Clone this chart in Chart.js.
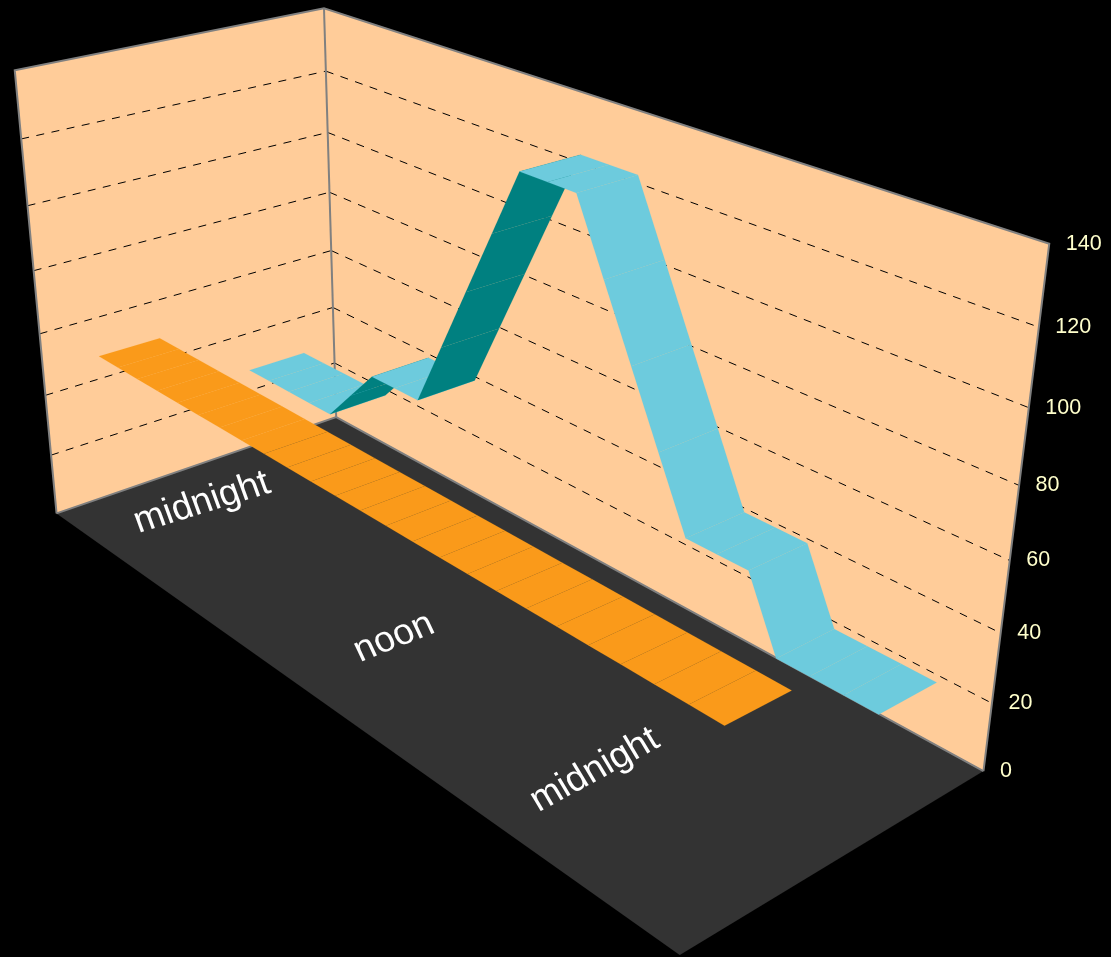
<!DOCTYPE html>
<html>
<head>
<meta charset="utf-8">
<script src="https://cdn.jsdelivr.net/npm/chart.js@4"></script>
<style>
  body { margin: 0; background: #000; }
  canvas { display: block; }
</style>
</head>
<body>
<canvas id="chart" width="1111" height="957"></canvas>
<script>
const hours = [0, 1, 2, 3, 4, 5, 6, 7, 8, 9, 10, 11, 12, 13, 14, 15, 16, 17, 18, 19, 20, 21, 22, 23, 24];
const backSeries = [30, 30, 30, 30, 30, 40, 50, 50, 50, 70, 90, 110, 130, 130, 130, 110, 90, 70, 50, 50, 50, 30, 30, 30, 30];
const frontSeries = [50, 50, 50, 50, 50, 50, 50, 50, 50, 50, 50, 50, 50, 50, 50, 50, 50, 50, 50, 50, 50, 50, 50, 50, 50];
const valueTicks = [0, 20, 40, 60, 80, 100, 120, 140];
const floorLabels = ['midnight', 'noon', 'midnight'];

// camera for the box: hour along the back wall, depth across the floor, height up the wall
const camX = [336.1765, 389.5359, -284.6602, -39.3219];
const camY = [417.1361, 151.8885, 50.5490, -409.6192];
const camW = [1, -0.262085, -0.089066, -0.083749];

function project(u, v, w) {
  const h = w / 140, den = camW[0] + camW[1] * u + camW[2] * v + camW[3] * h;
  return {
    x: (camX[0] + camX[1] * u + camX[2] * v + camX[3] * h) / den,
    y: (camY[0] + camY[1] * u + camY[2] * v + camY[3] * h) / den
  };
}

// where each floor label sits on the floor, and how it is skewed there
const labelSpots = [[0.1078, 0.6703], [0.4793, 0.7007], [0.7796, 0.7027]];
const labelAngles = [17, 21.6, 28.4];
const labelLeans = [20, 25, 31];

const slotU = (i) => (i + 0.5) / hours.length;
const datasets = [];
const poly = (corners, color) => datasets.push({ polygon: true, data: corners, backgroundColor: color, showLine: false, pointRadius: 0 });
const line = (corners, color, width, dash) => datasets.push({ data: corners, borderColor: color, borderWidth: width, borderDash: dash || [], showLine: true, pointRadius: 0, tension: 0, fill: false });

const PEACH = '#ffcc99', EDGE = '#808080';
poly([project(0, 1, 0), project(0, 0, 0), project(0, 0, 140), project(0, 1, 140)], PEACH);
poly([project(0, 0, 0), project(1, 0, 0), project(1, 0, 140), project(0, 0, 140)], PEACH);
poly([project(0, 0, 0), project(1, 0, 0), project(1, 1, 0), project(0, 1, 0)], '#333333');

valueTicks.slice(1, -1).forEach((t) => {
  line([project(0, 1, t), project(0, 0, t)], '#000', 1, [8, 7.5]);
  line([project(0, 0, t), project(1, 0, t)], '#000', 1, [8, 7.5]);
});
line([project(0, 1, 0), project(0, 1, 140), project(0, 0, 140), project(1, 0, 140), project(1, 0, 0)], EDGE, 2);
line([project(0, 0, 0), project(0, 0, 140)], EDGE, 2);
line([project(0, 1, 0), project(0, 0, 0), project(1, 0, 0)], EDGE, 2);

// one quad per hour, later hours on top; a rising quad shows its underside
function ribbon(series, vNear, vFar, topColor, underColor) {
  for (let i = 0; i + 1 < series.length; i++) {
    const a = slotU(i), b = slotU(i + 1);
    const color = series[i + 1] > series[i] ? underColor : topColor;
    poly([project(a, vNear, series[i]), project(a, vFar, series[i]), project(b, vFar, series[i + 1]), project(b, vNear, series[i + 1])], color);
  }
}
ribbon(backSeries, 0.35, 0.15, '#6dcbdd', '#008080');
ribbon(frontSeries, 0.85, 0.65, '#fa9a1a', '#fa9a1a');

// Chart.js paints the highest order first
datasets.forEach((ds, i) => { ds.order = datasets.length - i; });

const polygonFill = {
  id: 'polygonFill',
  beforeDatasetDraw(chart, args) {
    const ds = chart.data.datasets[args.index];
    if (!ds.polygon) return;
    const pts = chart.getDatasetMeta(args.index).data, ctx = chart.ctx;
    ctx.save();
    ctx.beginPath();
    pts.forEach((p, i) => (i ? ctx.lineTo(p.x, p.y) : ctx.moveTo(p.x, p.y)));
    ctx.closePath();
    ctx.fillStyle = ds.backgroundColor;
    ctx.strokeStyle = ds.backgroundColor;
    ctx.lineWidth = 0.12;
    ctx.fill();
    ctx.stroke();
    ctx.restore();
  }
};

const axisText = {
  id: 'axisText',
  afterDraw(chart) {
    const { ctx, scales: { x, y } } = chart;
    ctx.save();
    ctx.fillStyle = '#ffffcc';
    ctx.font = '21.5px "Liberation Sans"';
    ctx.textAlign = 'left';
    ctx.textBaseline = 'middle';
    valueTicks.forEach((t) => {
      const p = project(1, 0, t);
      ctx.fillText(String(t), x.getPixelForValue(p.x) + 16.5, y.getPixelForValue(p.y));
    });
    // floor labels lie on the plane, so the stems lean back as well as rotate
    ctx.fillStyle = '#fff';
    ctx.font = '37px "Liberation Sans"';
    ctx.textAlign = 'center';
    ctx.textBaseline = 'alphabetic';
    floorLabels.forEach((text, i) => {
      const p = project(labelSpots[i][0], labelSpots[i][1], 0);
      const a = labelAngles[i] * Math.PI / 180, lean = labelLeans[i] * Math.PI / 180;
      ctx.save();
      ctx.transform(Math.cos(a), -Math.sin(a), Math.sin(lean), Math.cos(lean), x.getPixelForValue(p.x), y.getPixelForValue(p.y));
      ctx.fillText(text, 0, 0);
      ctx.restore();
    });
    ctx.restore();
  }
};

new Chart(document.getElementById('chart'), {
  type: 'scatter',
  data: { datasets },
  plugins: [polygonFill, axisText],
  options: {
    responsive: false,
    animation: false,
    layout: { padding: 0 },
    plugins: { legend: { display: false }, tooltip: { enabled: false } },
    scales: {
      x: { type: 'linear', display: false, min: 0, max: 1111 },
      y: { type: 'linear', display: false, min: 0, max: 957, reverse: true }
    }
  }
});
</script>
</body>
</html>
